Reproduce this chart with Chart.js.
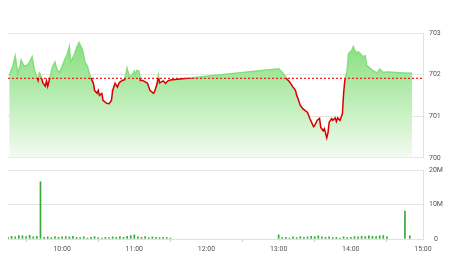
<!DOCTYPE html>
<html>
<head>
<meta charset="utf-8">
<script src="https://cdn.jsdelivr.net/npm/chart.js@4.4.0/dist/chart.umd.min.js"></script>
<style>
  body { margin: 0; background: #fff; width: 450px; height: 280px; overflow: hidden; position: relative; }
  canvas { display: block; position: absolute; left: 0; }
  #priceChart { top: 0; }
  #volChart { top: 160px; }
</style>
</head>
<body>
<canvas id="priceChart" width="450" height="168"></canvas>
<canvas id="volChart" width="450" height="100"></canvas>
<script>
const refPrice = 701.91;

const priceTimes = [
  '9:16','9:19','9:21','9:23','9:25','9:26','9:28','9:30','9:33','9:35','9:37','9:39','9:40','9:41','9:42','9:44','9:46','9:47','9:48','9:50',
  '9:52','9:54','9:56','9:58','10:01','10:02','10:04','10:06','10:07','10:10','10:12','10:14','10:17','10:19','10:21','10:23','10:26','10:27','10:29','10:30',
  '10:31','10:33','10:34','10:37','10:39','10:41','10:42','10:44','10:46','10:47','10:48','10:50','10:52','10:54','10:56','10:58','11:00','11:01','11:02','11:04',
  '11:05','11:07','11:11','11:13','11:16','11:17','11:19','11:20','11:21','11:24','11:26','11:28','11:30',
  '13:00','13:03','13:05','13:07','13:09','13:12','13:14','13:15','13:16','13:18','13:19','13:20','13:24','13:26','13:29','13:30','13:32','13:34','13:35','13:37',
  '13:38','13:40','13:41','13:42','13:44','13:45','13:47','13:48','13:49','13:51','13:53','13:54','13:55','13:57','13:58','14:01','14:02','14:03','14:05','14:06',
  '14:08','14:10','14:12','14:13','14:16','14:18','14:22','14:24','14:27','14:30','14:38','14:44','14:51'
];
const prices = [
  701.98,702.2,702.44,702.03,702.2,702.35,702.22,702.2,702.3,702.43,702.1,701.94,701.86,702.04,702.0,701.8,701.72,701.85,701.72,701.94,
  702.18,702.3,702.1,702.05,702.27,702.35,702.47,702.67,702.3,702.47,702.64,702.77,702.59,702.3,702.2,701.98,701.79,701.62,701.55,701.62,
  701.5,701.55,701.38,701.31,701.3,701.38,701.62,701.79,701.7,701.78,701.82,701.86,701.88,702.15,701.95,701.98,702.08,701.98,702.1,702.08,
  701.86,701.86,701.79,701.62,701.55,701.6,701.79,701.98,701.8,701.85,701.79,701.85,701.87,
  702.14,702.05,701.98,701.89,701.83,701.7,701.62,701.5,701.43,701.26,701.22,701.18,701.09,700.94,700.75,700.78,700.9,700.95,700.73,700.65,
  700.7,700.48,700.6,700.85,700.94,700.9,700.96,700.87,700.96,700.9,701.06,701.55,701.86,702.1,702.5,702.59,702.67,702.6,702.5,702.55,
  702.5,702.43,702.45,702.23,702.15,702.1,702.04,702.13,702.05,702.06,702.05,702.04,702.03
];

const volTimes = [
  '9:15','9:18','9:21','9:24','9:27','9:30','9:33','9:36','9:39','9:42','9:45','9:48','9:51','9:54','9:57','10:00','10:03','10:06','10:09','10:12',
  '10:15','10:18','10:21','10:24','10:27','10:30','10:33','10:36','10:39','10:42','10:45','10:48','10:51','10:54','10:57','11:00','11:03','11:06','11:09','11:12',
  '11:15','11:18','11:21','11:24','11:27','11:30',
  '13:00','13:03','13:06','13:09','13:12','13:15','13:18','13:21','13:24','13:27','13:30','13:33','13:36','13:39','13:42','13:45','13:48','13:51','13:54','13:57',
  '14:00','14:03','14:06','14:09','14:12','14:15','14:18','14:21','14:24','14:27','14:30','14:45','14:49'
];
const volumes = [
  0.5,0.8,0.6,1.0,0.9,0.7,1.1,0.6,0.8,16.6,0.5,0.6,0.4,0.7,0.5,0.6,0.7,0.6,0.8,0.5,
  0.4,0.6,0.3,0.5,0.7,0.4,0.3,0.5,0.4,0.6,0.5,0.7,0.5,0.8,1.0,1.2,0.6,0.5,0.7,0.4,
  0.6,0.5,0.4,0.5,0.4,0.3,
  1.2,0.4,0.5,0.3,0.6,0.4,0.7,0.5,0.6,0.8,0.7,0.9,0.6,0.5,0.6,0.4,0.5,0.3,0.6,0.4,
  0.5,0.7,0.6,0.8,0.7,0.9,0.8,0.7,0.9,1.0,0.6,8.1,0.9
];

const hourTicks = ['10:00','11:00','12:00','13:00','14:00','15:00'];
const priceTicks = [700, 701, 702, 703];
const volTicks = [0, 10, 20];

function toMin(t) {
  const [h, m] = t.split(':').map(Number);
  return h * 60 + m;
}
function fmtMin(v) {
  const h = Math.floor(v / 60), m = v % 60;
  return h + ':' + String(m).padStart(2, '0');
}

const X_MIN = toMin('9:15');
const X_MAX = toMin('15:00');
const GREEN = '#84de7d';
const RED = '#d80000';

Chart.defaults.font.family = 'Roboto, "Liberation Sans", sans-serif';
Chart.defaults.font.size = 7;
Chart.defaults.color = '#555';

function lineGradient(ctx) {
  const chart = ctx.chart;
  const area = chart.chartArea;
  if (!area) return RED;
  const yRef = chart.scales.y.getPixelForValue(refPrice);
  const stop = Math.min(1, Math.max(0, (yRef - area.top) / (area.bottom - area.top)));
  const g = chart.ctx.createLinearGradient(0, area.top, 0, area.bottom);
  g.addColorStop(0, GREEN);
  g.addColorStop(stop, GREEN);
  g.addColorStop(stop, RED);
  g.addColorStop(1, RED);
  return g;
}

function fillGradient(ctx) {
  const chart = ctx.chart;
  const area = chart.chartArea;
  if (!area) return 'rgba(120,220,110,0.5)';
  const g = chart.ctx.createLinearGradient(0, area.top, 0, area.bottom);
  g.addColorStop(0, '#7edc76');
  g.addColorStop(0.5, '#b8ecb1');
  g.addColorStop(1, '#f3fbf1');
  return g;
}

const xScale = {
  type: 'linear',
  min: X_MIN,
  max: X_MAX,
  afterBuildTicks: axis => { axis.ticks = hourTicks.map(t => ({ value: toMin(t) })); }
};

new Chart(document.getElementById('priceChart'), {
  type: 'line',
  data: {
    datasets: [
      {
        data: [{ x: X_MIN, y: refPrice }, { x: X_MAX, y: refPrice }],
        borderColor: '#f01818',
        borderWidth: 1.2,
        borderDash: [2, 2],
        pointRadius: 0,
        fill: false
      },
      {
        data: priceTimes.map((t, i) => ({ x: toMin(t), y: prices[i] })),
        borderColor: lineGradient,
        backgroundColor: fillGradient,
        borderWidth: 1.5,
        pointRadius: 0,
        tension: 0,
        fill: 'start'
      }
    ]
  },
  options: {
    responsive: false,
    animation: false,
    layout: { padding: { left: 8, top: 33, bottom: 3, right: 0 } },
    plugins: { legend: { display: false }, tooltip: { enabled: false } },
    scales: {
      x: { ...xScale, display: false },
      y: {
        position: 'right',
        min: 700,
        max: 703,
        afterBuildTicks: axis => { axis.ticks = priceTicks.map(v => ({ value: v })); },
        afterFit: scale => { scale.width = 27; },
        grid: { color: '#e6e6e6', drawTicks: false },
        border: { display: true, color: '#dde1e8' },
        ticks: { padding: 6, crossAlign: 'center' }
      }
    }
  }
});

new Chart(document.getElementById('volChart'), {
  type: 'bar',
  data: {
    datasets: [{
      data: volTimes.map((t, i) => ({ x: toMin(t), y: volumes[i] })),
      backgroundColor: '#3aa83a',
      barThickness: 1
    }]
  },
  options: {
    responsive: false,
    animation: false,
    layout: { padding: { left: 8, top: 4, bottom: 0, right: 0 } },
    plugins: { legend: { display: false }, tooltip: { enabled: false } },
    scales: {
      x: {
        ...xScale,
        offset: false,
        afterFit: scale => { scale.height = 21; },
        grid: { display: true, drawOnChartArea: false, tickLength: 3, color: '#ccc' },
        border: { display: true, color: '#dde1e8' },
        ticks: { padding: 3, maxRotation: 0, callback: v => fmtMin(v) }
      },
      y: {
        position: 'right',
        min: 0,
        max: 20,
        afterBuildTicks: axis => { axis.ticks = volTicks.map(v => ({ value: v })); },
        afterFit: scale => { scale.width = 27; },
        grid: { color: '#e6e6e6', drawTicks: false },
        border: { display: true, color: '#dde1e8' },
        ticks: { padding: 6, crossAlign: 'center', callback: v => v === 0 ? '0' : v + 'M' }
      }
    }
  }
});
</script>
</body>
</html>
